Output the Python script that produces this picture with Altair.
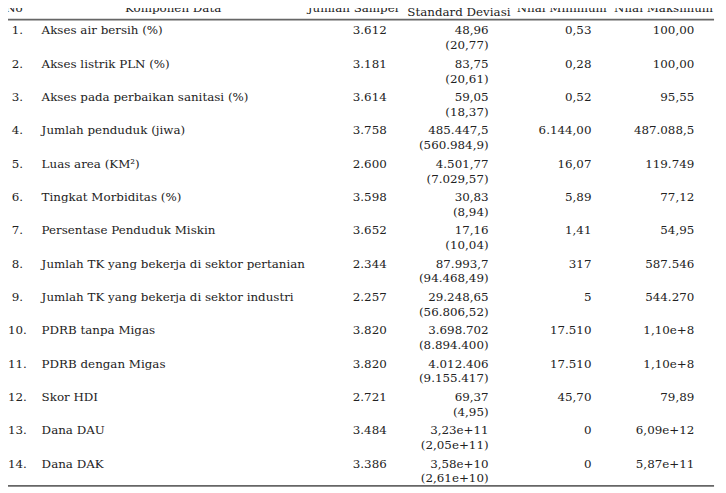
import altair as alt
import pandas as pd

no = [f"{i}." for i in range(1, 15)]
komponen = [
    "Akses air bersih (%)",
    "Akses listrik PLN (%)",
    "Akses pada perbaikan sanitasi (%)",
    "Jumlah penduduk (jiwa)",
    "Luas area (KM²)",
    "Tingkat Morbiditas (%)",
    "Persentase Penduduk Miskin",
    "Jumlah TK yang bekerja di sektor pertanian",
    "Jumlah TK yang bekerja di sektor industri",
    "PDRB tanpa Migas",
    "PDRB dengan Migas",
    "Skor HDI",
    "Dana DAU",
    "Dana DAK",
]
jumlah = ["3.612", "3.181", "3.614", "3.758", "2.600", "3.598", "3.652",
          "2.344", "2.257", "3.820", "3.820", "2.721", "3.484", "3.386"]
rata = ["48,96", "83,75", "59,05", "485.447,5", "4.501,77", "30,83", "17,16",
        "87.993,7", "29.248,65", "3.698.702", "4.012.406", "69,37", "3,23e+11", "3,58e+10"]
sd = ["(20,77)", "(20,61)", "(18,37)", "(560.984,9)", "(7.029,57)", "(8,94)", "(10,04)",
      "(94.468,49)", "(56.806,52)", "(8.894.400)", "(9.155.417)", "(4,95)", "(2,05e+11)", "(2,61e+10)"]
minimum = ["0,53", "0,28", "0,52", "6.144,00", "16,07", "5,89", "1,41",
           "317", "5", "17.510", "17.510", "45,70", "0", "0"]
maksimum = ["100,00", "100,00", "95,55", "487.088,5", "119.749", "77,12", "54,95",
            "587.546", "544.270", "1,10e+8", "1,10e+8", "79,89", "6,09e+12", "5,87e+11"]
headers = ["No", "Komponen Data", "Jumlah Sampel", "Standard Deviasi", "Nilai Minimum", "Nilai Maksimum"]

df = pd.DataFrame({
    "row": list(range(1, 15)),
    "no": no, "komponen": komponen, "jumlah": jumlah, "rata": rata,
    "sd": sd, "minimum": minimum, "maksimum": maksimum,
})

FONT = "DejaVu Serif"
FS = 12
COLOR = "#222222"

yscale = alt.Scale(domain=[0.406, 14.801], reverse=True, nice=False, zero=False)
base = alt.Chart(df)


def col(field, x, align, yfield="row"):
    return base.mark_text(align=align, baseline="middle", font=FONT, fontSize=FS, color=COLOR).encode(
        x=alt.value(x),
        y=alt.Y(f"{yfield}:Q", scale=yscale, axis=None),
        text=f"{field}:N",
    )


layers = [
    col("no", 9.5, "center"),
    col("komponen", 34, "left"),
    col("jumlah", 383, "right"),
    col("rata", 486, "right"),
    base.transform_calculate(row2="datum.row + 0.445").mark_text(
        align="right", baseline="middle", font=FONT, fontSize=FS, color=COLOR
    ).encode(x=alt.value(486), y=alt.Y("row2:Q", scale=yscale, axis=None), text="sd:N"),
    col("minimum", 590, "right"),
    col("maksimum", 694, "right"),
]

hdr_x = [6, 167, 349, 456, 560, 663]
hdr_y = [0, 0, 0, 4, 0, 0]
for h, hx, hy in zip(headers, hdr_x, hdr_y):
    layers.append(
        alt.Chart(pd.DataFrame({"t": [h]})).mark_text(
            align="center", baseline="alphabetic", font=FONT, fontSize=FS, color=COLOR
        ).encode(x=alt.value(hx), y=alt.value(1 + hy), text="t:N")
    )

rules = alt.Chart(pd.DataFrame({"r": [0.673, 14.668]})).mark_rule(color="#666666", strokeWidth=1.6).encode(
    x=alt.value(0), x2=alt.value(714), y=alt.Y("r:Q", scale=yscale, axis=None)
)
layers.append(rules)

chart = alt.layer(*layers).properties(
    width=718, height=485, padding=0, autosize=alt.AutoSizeParams(type="none")
).configure_view(stroke=None)

chart.save("out.html", embed_options={"renderer": "svg", "actions": False})
